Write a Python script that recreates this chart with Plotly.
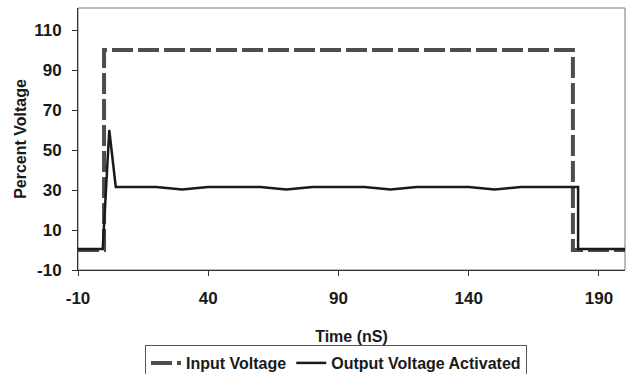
import plotly.graph_objects as go

input_t = [-10, 0, 0, 180, 180, 200]
input_v = [0, 0, 100, 100, 0, 0]

output_t = [-10, -0.5, 2, 4.5, 10, 20, 30, 40, 50, 60, 70, 80, 90, 100, 110, 120,
            130, 140, 150, 160, 170, 180, 182, 182, 200]
output_v = [0.5, 0.5, 60, 31.5, 31.5, 31.5, 30.2, 31.5, 31.5, 31.5, 30.2, 31.5, 31.5,
            31.5, 30.2, 31.5, 31.5, 31.5, 30.2, 31.5, 31.5, 31.5, 31.5, 0.5, 0.5]

x_ticks = [-10, 40, 90, 140, 190]
x_labels = ["-10", "40", "90", "140", "190"]
y_ticks = [-10, 10, 30, 50, 70, 90, 110]
y_labels = ["-10", "10", "30", "50", "70", "90", "110"]

FONT = "Arial, Liberation Sans, sans-serif"

fig = go.Figure()
fig.add_trace(go.Scatter(x=input_t, y=input_v, mode="lines", name="Input Voltage",
                         line=dict(color="#4d4d4d", width=4, dash="21px,5px")))
fig.add_trace(go.Scatter(x=output_t, y=output_v, mode="lines", name="Output Voltage Activated",
                         line=dict(color="#1a1a1a", width=2.5)))

fig.update_layout(
    width=626, height=374,
    margin=dict(l=78, r=1, t=8, b=104, autoexpand=False),
    plot_bgcolor="white", paper_bgcolor="white",
    font=dict(family=FONT, color="#1a1a1a"),
    showlegend=True,
    legend=dict(orientation="h", x=(336 - 78) / 547, xanchor="center",
                y=(270 - 345) / 262, yanchor="top",
                bordercolor="#555", borderwidth=1, itemwidth=30,
                font=dict(size=16, weight="bold", family=FONT)),
    shapes=[dict(type="rect", xref="paper", yref="paper", x0=0, x1=1, y0=0, y1=1,
                 line=dict(color="#777", width=1), layer="below")],
)
fig.update_xaxes(range=[-10, 200], tickvals=x_ticks, ticktext=x_labels, ticks="outside", ticklen=5,
                 tickcolor="#333", showline=True, linecolor="#333", linewidth=1,
                 showgrid=False, zeroline=False, ticklabelstandoff=8, automargin=False,
                 tickfont=dict(size=17, weight="bold", family=FONT),
                 title=dict(text="Time (nS)", standoff=23,
                            font=dict(size=16, weight="bold", family=FONT)))
fig.update_yaxes(range=[-10, 121], tickvals=y_ticks, ticktext=y_labels, ticks="outside", ticklen=5,
                 tickcolor="#333", showline=True, linecolor="#333", linewidth=1,
                 showgrid=False, zeroline=False, ticklabelstandoff=7, automargin=False,
                 tickfont=dict(size=17, weight="bold", family=FONT),
                 title=dict(text="Percent Voltage", standoff=3,
                            font=dict(size=16, weight="bold", family=FONT)))

fig.write_html("out.html", config={"displayModeBar": False},
               post_script="document.body.style.margin='0';document.body.style.overflow='hidden';")
